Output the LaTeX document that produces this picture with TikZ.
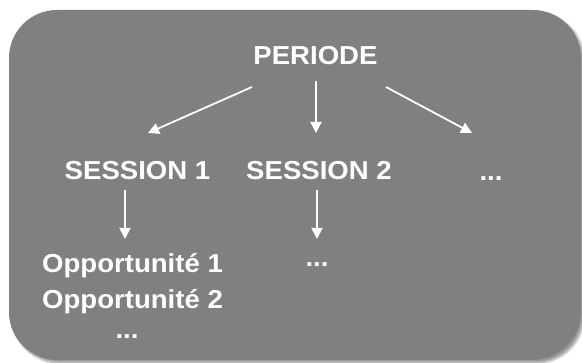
\documentclass[tikz,border=0pt]{standalone}
\usepackage{fontspec}
\setmainfont{Liberation Sans}
\usetikzlibrary{arrows.meta,shadows.blur}
\definecolor{boxgray}{HTML}{808080}
\tikzset{
  lbl/.style={text=white, font=\fontsize{26}{30}\selectfont\bfseries, inner sep=0pt, anchor=base, xscale=1.06},
  arr/.style={draw=white, line width=1.8pt, -{Triangle[width=11pt,length=11pt]}}
}
\begin{document}
\begin{tikzpicture}[x=1pt,y=-1pt]
\useasboundingbox (0,0) rectangle (582,363);
\fill[boxgray, rounded corners=48pt, blur shadow={shadow xshift=3pt, shadow yshift=-3pt, shadow blur steps=8, shadow opacity=40}] (9,10) rectangle (581,360);
\node[lbl] (P) at (315.5,65) {PERIODE};
\node[lbl] (S1) at (137.5,180) {SESSION 1};
\node[lbl] (S2) at (319,180) {SESSION 2};
\node[lbl] (S3) at (491,181) {...};
\node[lbl] (O1) at (132.5,273) {Opportunité 1};
\node[lbl] (O2) at (132.5,309) {Opportunité 2};
\node[lbl] (O3) at (127,339) {...};
\node[lbl] (T2) at (317,267) {...};
\coordinate (pl) at (252,87);
\coordinate (pm) at (316,81);
\coordinate (pr) at (386,87);
\coordinate (s1t) at (148,133);
\coordinate (s2t) at (316,133);
\coordinate (s3t) at (472,133);
\coordinate (a1s) at (125,190);
\coordinate (a1t) at (125,239);
\coordinate (a2s) at (317,190);
\coordinate (a2t) at (317,239);
\draw[arr] (pl) -- (s1t);
\draw[arr] (pm) -- (s2t);
\draw[arr] (pr) -- (s3t);
\draw[arr] (a1s) -- (a1t);
\draw[arr] (a2s) -- (a2t);
\end{tikzpicture}
\end{document}
